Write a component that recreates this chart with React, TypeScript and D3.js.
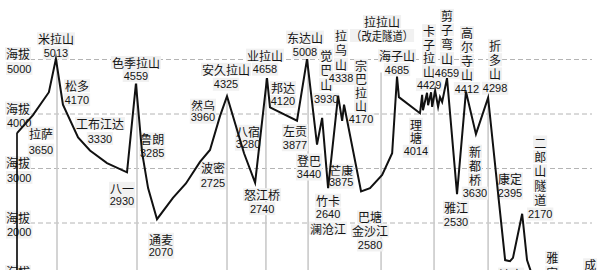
import React from 'react';
import * as d3 from 'd3';

// ---- data ----
const names = ['拉萨','','','米拉山','松多','','工布江达','','八一','色季拉山','鲁朗','','通麦','','波密','','','然乌','安久拉山','八宿','怒江桥','业拉山','邦达','左贡','东达山','登巴','觉巴山','竹卡','拉乌山','芒康','宗巴拉山','巴塘','','','','海子山','','理塘','','','','','','','卡子拉山','','','','剪子弯山','雅江','高尔寺山','新都桥','折多山','康定','泸定','','','二郎山隧道','','','雅安','成都'];
const km = [0,59,118,144,170,226,270,333,407,440,463,485,518,577,625,677,714,751,777,840,881,925,936,1036,1073,1110,1129,1151,1188,1203,1210,1273,1306,1351,1388,1406,1413,1491,1499,1502,1517,1521,1532,1536,1547,1558,1565,1573,1591,1628,1661,1698,1743,1783,1806,1824,1835,1869,1887,1902,1980,2139];
const altitude = [3650,3980,4400,5013,4170,3570,3330,3100,2930,4559,3285,2640,2070,2460,2725,3120,3340,3960,4325,3280,2740,4658,4120,3877,5008,3440,3930,2640,4338,3875,4170,2580,2640,2880,3280,4685,4310,4014,4350,4070,4390,4160,4400,4130,4429,4130,4310,4220,4659,2530,4412,3630,4298,2395,1320,1300,1360,2170,1320,1100,600,500];
const yTicks = [1000,2000,3000,4000,5000];
const yTickTitle = '海拔';
const notes: Record<string,string> = { '竹卡': '澜沧江', '巴塘': '金沙江' };
const dropKm = [148,444,777,921,1077,1347,1543,1743];
const dropTop = [5013,4559,4325,4658,5008,4762,4670,4298];
const annotationName = '拉拉山';
const annotationNote = '（改走隧道）';
const annotationKm = 1347;
const annotationAlt = 4762;

// ---- layout (label offsets, px) ----
type Lay = { dx:number; dy:number; gap:number; vertical?:boolean; notePos?:number; hideValue?:boolean };
const layout: Record<string, Lay> = {
  '拉萨': {dx:24, dy:0, gap:17},
  '米拉山': {dx:0, dy:-20, gap:14},
  '松多': {dx:14, dy:-19, gap:14},
  '工布江达': {dx:10, dy:-27, gap:15},
  '八一': {dx:-5, dy:16, gap:13},
  '色季拉山': {dx:0, dy:-21, gap:13},
  '鲁朗': {dx:10, dy:-14, gap:14},
  '通麦': {dx:4, dy:20, gap:13},
  '波密': {dx:27, dy:-15.5, gap:15},
  '然乌': {dx:-17, dy:-11, gap:12},
  '安久拉山': {dx:-1, dy:-27, gap:15},
  '八宿': {dx:4, dy:-22, gap:13},
  '怒江桥': {dx:7, dy:12, gap:14},
  '业拉山': {dx:-2, dy:-23, gap:14},
  '邦达': {dx:13, dy:-20, gap:14},
  '左贡': {dx:-2, dy:10, gap:14},
  '东达山': {dx:-2, dy:-22, gap:15},
  '登巴': {dx:-8, dy:15.5, gap:14},
  '觉巴山': {dx:4, dy:-62.6, gap:14.7, vertical:true},
  '竹卡': {dx:0, dy:12, gap:14, notePos:2},
  '拉乌山': {dx:3, dy:-60, gap:14.3, vertical:true},
  '芒康': {dx:-1, dy:49.4, gap:12},
  '宗巴拉山': {dx:17, dy:-39.4, gap:13.5, vertical:true},
  '巴塘': {dx:9, dy:25.6, gap:14, notePos:1},
  '海子山': {dx:0, dy:-21, gap:14},
  '理塘': {dx:-4, dy:11, gap:13.5, vertical:true},
  '卡子拉山': {dx:-6, dy:-60, gap:13.5, vertical:true},
  '剪子弯山': {dx:0, dy:-62.7, gap:14.3, vertical:true},
  '高尔寺山': {dx:1, dy:-59, gap:14, vertical:true},
  '折多山': {dx:7, dy:-52.4, gap:14.3, vertical:true},
  '雅江': {dx:-1, dy:13, gap:15},
  '新都桥': {dx:-1, dy:17, gap:14, vertical:true},
  '康定': {dx:11, dy:-22.5, gap:14},
  '二郎山隧道': {dx:18, dy:-71.7, gap:14.4, vertical:true},
  '泸定': {dx:6, dy:14, gap:14, hideValue:true},
  '雅安': {dx:0, dy:-42, gap:15, vertical:true, hideValue:true},
  '成都': {dx:-5, dy:-40, gap:15, vertical:true, hideValue:true},
};

const W = 600, H = 270;
const CJK = "'Noto Sans CJK SC', 'Noto Sans', sans-serif";
const NUM = "'Liberation Sans', Arial, sans-serif";

function isNum(s: string) { return /^[0-9]+$/.test(s); }
function textW(s: string) {
  if (isNum(s)) return s.length * 6.1;
  let w = 0; for (const ch of s) w += /[\x00-\x7f]/.test(ch) ? 6 : 12; return w;
}

function TextLine({ s, cx, cy, anchor = 'middle', box = true, textLength }: { s:string; cx:number; cy:number; anchor?:string; box?:boolean; textLength?:number }) {
  const num = isNum(s);
  const w = textLength ?? textW(s);
  const x0 = anchor === 'middle' ? cx - w / 2 : cx;
  return (
    <g>
      {box && <rect x={x0 - 1} y={cy - 6.5} width={w + 2} height={13} fill="#f1f1f1" />}
      <text x={cx} y={cy} textAnchor={anchor as any} dominantBaseline="central"
        fontFamily={num ? NUM : CJK} fontSize={num ? 11 : 12} fill="#151515"
        {...(textLength ? { textLength, lengthAdjust: 'spacingAndGlyphs' } : {})}>{s}</text>
    </g>
  );
}

export default function App() {
  const x = d3.scaleLinear().domain([0, 2157]).range([17, 600]);
  const y = d3.scaleLinear().domain([2000, 5000]).range([223, 59.5]);
  const pts = km.map((k, i) => [x(k), y(altitude[i])] as [number, number]);
  const path = d3.line()(pts) as string;

  const labels: React.ReactNode[] = [];
  names.forEach((n, i) => {
    if (!n || !layout[n]) return;
    const L = layout[n];
    let lines: string[] = L.vertical ? Array.from(n) : [n];
    if (!L.hideValue) lines.push(String(altitude[i]));
    if (notes[n]) lines.splice(L.notePos ?? lines.length, 0, notes[n]);
    const cx = pts[i][0] + L.dx;
    const cy0 = pts[i][1] + L.dy;
    lines.forEach((s, j) => labels.push(<TextLine key={n + j} s={s} cx={cx} cy={cy0 + j * L.gap} />));
  });

  const ax = x(annotationKm), ay = y(annotationAlt);

  return (
    <svg width={W} height={H} style={{ position: 'absolute', left: 0, top: 0, background: '#fff' }}>
      <rect x={0} y={0} width={W} height={H} fill="#fff" />
      {yTicks.map(t => (
        <line key={'g' + t} x1={30} x2={592} y1={y(t)} y2={y(t)} stroke="#b4b4b4" strokeWidth={1} strokeDasharray="5,3" />
      ))}
      {dropKm.map((k, i) => (
        <line key={'d' + i} x1={x(k)} x2={x(k)} y1={y(dropTop[i])} y2={H} stroke="#cacaca" strokeWidth={1.6} />
      ))}
      {yTicks.map(t => (
        <g key={'t' + t}>
          <TextLine s={yTickTitle} cx={6} cy={y(t) - 6} anchor="start" />
          <TextLine s={String(t)} cx={7} cy={y(t) + 9} anchor="start" />
        </g>
      ))}
      {labels}
      <TextLine s={annotationName} cx={ax + 1} cy={ay - 51} />
      <TextLine s={annotationNote} cx={ax + 1} cy={ay - 37} textLength={62} />
      <line x1={x(0)} x2={x(0)} y1={y(altitude[0])} y2={H} stroke="#000" strokeWidth={1.6} />
      <path d={path} fill="none" stroke="#111" strokeWidth={2} strokeLinejoin="miter" strokeMiterlimit={6} />
    </svg>
  );
}
